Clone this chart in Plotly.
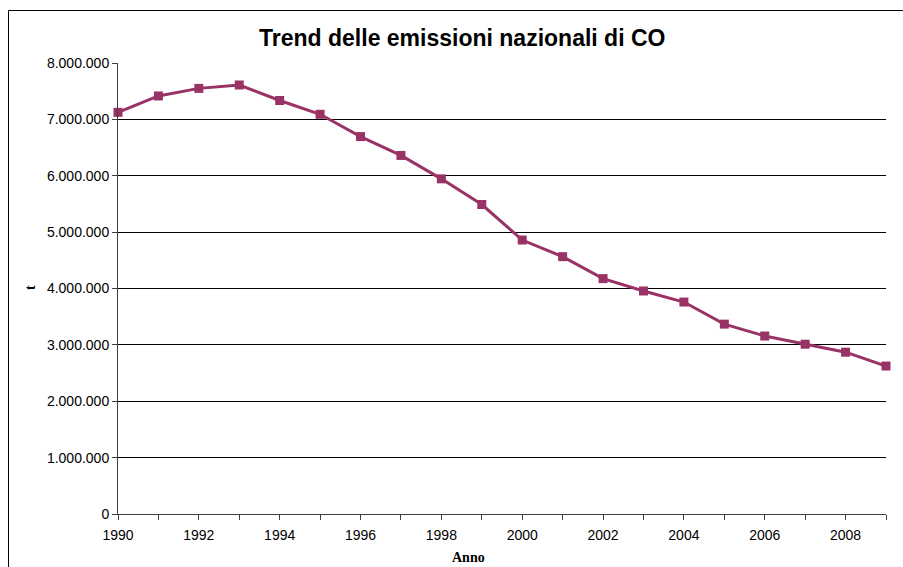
import plotly.graph_objects as go

# Annual national CO emissions (tonnes)
anni = list(range(1990, 2010))
emissioni_t = [
    7125000, 7415000, 7550000, 7610000, 7335000, 7090000, 6695000, 6360000,
    5945000, 5490000, 4860000, 4565000, 4175000, 3956000, 3760000, 3368000,
    3157000, 3012000, 2870000, 2625000,
]
y_ticks = [0, 1000000, 2000000, 3000000, 4000000, 5000000, 6000000, 7000000, 8000000]
x_ticks = list(range(1990, 2010, 2))

W, H = 903, 567
L, R, T, B = 118, 17, 63, 53
pw, ph = W - L - R, H - T - B


def px_x(x):
    return (x - L) / pw


def px_y(y):
    return (H - B - y) / ph


fig = go.Figure()
fig.add_trace(go.Scatter(
    x=anni, y=emissioni_t, mode="lines+markers",
    line=dict(color="#993366", width=3),
    marker=dict(symbol="square", size=9, color="#993366"),
    cliponaxis=False, showlegend=False,
))

fig.update_layout(
    width=W, height=H,
    margin=dict(l=L, r=R, t=T, b=B),
    paper_bgcolor="white", plot_bgcolor="white",
    separators=",.",
    font=dict(family="Liberation Sans, Arial, sans-serif", size=14, color="black"),
    xaxis=dict(
        range=[1990, 2009], tickmode="array", tickvals=x_ticks,
        ticks="outside", ticklen=5, tickcolor="#404040",
        showline=True, linecolor="#404040", linewidth=1,
        showgrid=False, zeroline=False,
        minor=dict(dtick=1, tick0=1990, ticks="outside", ticklen=5, tickcolor="#404040", showgrid=False),
        tickfont=dict(size=14), ticklabelstandoff=3,
    ),
    yaxis=dict(
        range=[0, 8000000], tickmode="array", tickvals=y_ticks,
        tickformat=",d", ticks="outside", ticklen=5, tickcolor="#404040",
        showline=True, linecolor="#404040", linewidth=1,
        showgrid=True, gridcolor="black", gridwidth=1, zeroline=False,
        tickfont=dict(size=14),
    ),
    annotations=[
        dict(text="<b>Trend delle emissioni nazionali di CO</b>", xref="paper", yref="paper",
             x=px_x(462), y=px_y(38), xanchor="center", yanchor="middle", showarrow=False,
             font=dict(family="Liberation Sans, Arial, sans-serif", size=23)),
        dict(text="<b>t</b>", xref="paper", yref="paper", x=px_x(30), y=px_y(288),
             xanchor="center", yanchor="middle", textangle=-90, showarrow=False,
             font=dict(family="Liberation Serif, Times New Roman, serif", size=14)),
        dict(text="<b>Anno</b>", xref="paper", yref="paper", x=px_x(468), y=px_y(557),
             xanchor="center", yanchor="middle", showarrow=False,
             font=dict(family="Liberation Serif, Times New Roman, serif", size=14)),
    ],
    shapes=[
        dict(type="rect", xref="paper", yref="paper",
             x0=px_x(8.5), y0=px_y(600), x1=px_x(960), y1=px_y(10.5),
             line=dict(color="black", width=1), fillcolor="rgba(0,0,0,0)", layer="below"),
    ],
)

fig.write_html("out.html")
